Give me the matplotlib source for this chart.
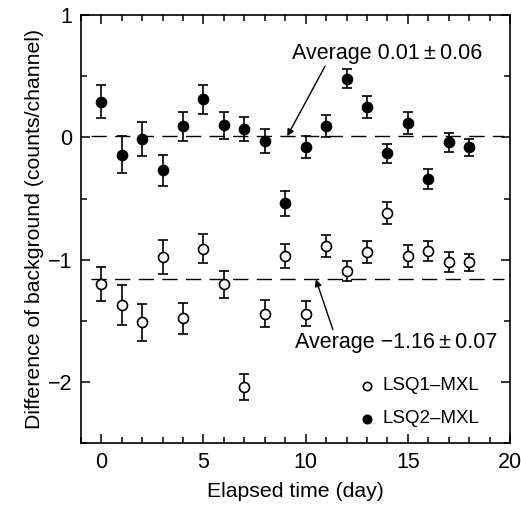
import numpy as np
import matplotlib
matplotlib.use("Agg")
import matplotlib.pyplot as plt
from matplotlib.ticker import MultipleLocator

plt.rcParams['font.family'] = ['Liberation Sans', 'DejaVu Sans']

days = list(range(19))
lsq1 = [-1.20, -1.37, -1.51, -0.98, -1.48, -0.91, -1.20, -2.04, -1.44, -0.97,
        -1.44, -0.89, -1.09, -0.94, -0.62, -0.97, -0.93, -1.02, -1.02]
lsq1_err = [0.14, 0.16, 0.15, 0.14, 0.13, 0.12, 0.11, 0.11, 0.11, 0.10,
            0.10, 0.09, 0.08, 0.09, 0.09, 0.09, 0.08, 0.08, 0.07]
lsq2 = [0.29, -0.14, -0.01, -0.27, 0.09, 0.31, 0.10, 0.07, -0.03, -0.54,
        -0.08, 0.09, 0.48, 0.25, -0.13, 0.12, -0.34, -0.04, -0.08]
lsq2_err = [0.135, 0.15, 0.14, 0.13, 0.12, 0.12, 0.11, 0.10, 0.10, 0.10,
            0.09, 0.09, 0.08, 0.09, 0.08, 0.09, 0.08, 0.08, 0.07]
avg1 = -1.16
avg2 = 0.01
series_labels = ['LSQ1\u2013MXL', 'LSQ2\u2013MXL']
avg_texts = ['Average \u22121.16\u2009\u00b1\u20090.07', 'Average 0.01\u2009\u00b1\u20090.06']

fig = plt.figure(figsize=(5.21, 5.11), dpi=100)
ax = fig.add_axes([0.155, 0.1325, 0.824, 0.838])

ekw = dict(fmt='o', color='black', ecolor='black', elinewidth=1.2,
           capsize=3.6, capthick=1.2, markersize=7.2, markeredgewidth=1.2)
ax.errorbar(days, lsq1, yerr=lsq1_err, markerfacecolor='white', **ekw)
ax.errorbar(days, lsq2, yerr=lsq2_err, markerfacecolor='black', **ekw)

ax.plot([-0.5, 19.7], [avg2, avg2], color='black', lw=1.0, dashes=(11, 6))
ax.plot([-0.5, 19.7], [avg1, avg1], color='black', lw=1.0, dashes=(11, 6))

ax.annotate(avg_texts[1], xy=(9.1, avg2), xytext=(14.0, 0.69),
            ha='center', va='center', fontsize=15.5,
            arrowprops=dict(arrowstyle='-|>', color='black', lw=1.0,
                            mutation_scale=10, shrinkA=0, shrinkB=0,
                            relpos=(0.18, 0.0)))
ax.annotate(avg_texts[0], xy=(10.5, avg1), xytext=(14.45, -1.68),
            ha='center', va='center', fontsize=15.5,
            arrowprops=dict(arrowstyle='-|>', color='black', lw=1.0,
                            mutation_scale=10, shrinkA=0, shrinkB=0,
                            relpos=(0.19, 1.0)))

# legend
ax.plot([13.0], [-2.03], 'o', markerfacecolor='white', markeredgecolor='black',
        markersize=6, markeredgewidth=1.2)
ax.plot([13.0], [-2.30], 'o', markerfacecolor='black', markeredgecolor='black',
        markersize=6, markeredgewidth=1.2)
ax.text(13.75, -2.03, series_labels[0], fontsize=13.5, va='center', ha='left')
ax.text(13.75, -2.30, series_labels[1], fontsize=13.5, va='center', ha='left')

ax.set_xlim(-1, 20)
ax.set_ylim(-2.5, 1)
ax.xaxis.set_major_locator(MultipleLocator(5))
ax.xaxis.set_minor_locator(MultipleLocator(1))
ax.yaxis.set_major_locator(MultipleLocator(1))
ax.yaxis.set_minor_locator(MultipleLocator(0.5))
ax.tick_params(which='both', direction='in', top=True, right=True,
               labelsize=15.5, width=1.1)
ax.tick_params(which='major', length=6.5, pad=6)
ax.tick_params(which='minor', length=4.5)
for s in ax.spines.values():
    s.set_linewidth(1.2)

ax.yaxis.set_major_formatter(matplotlib.ticker.FuncFormatter(
    lambda v, p: ('\u2212%d' % abs(v)) if v < 0 else '%d' % v))

ax.set_xlabel('Elapsed time (day)', fontsize=15.3, labelpad=7)
ax.set_ylabel('Difference of background (counts/channel)', fontsize=15.3, labelpad=3)

fig.savefig('out.png', dpi=100)
